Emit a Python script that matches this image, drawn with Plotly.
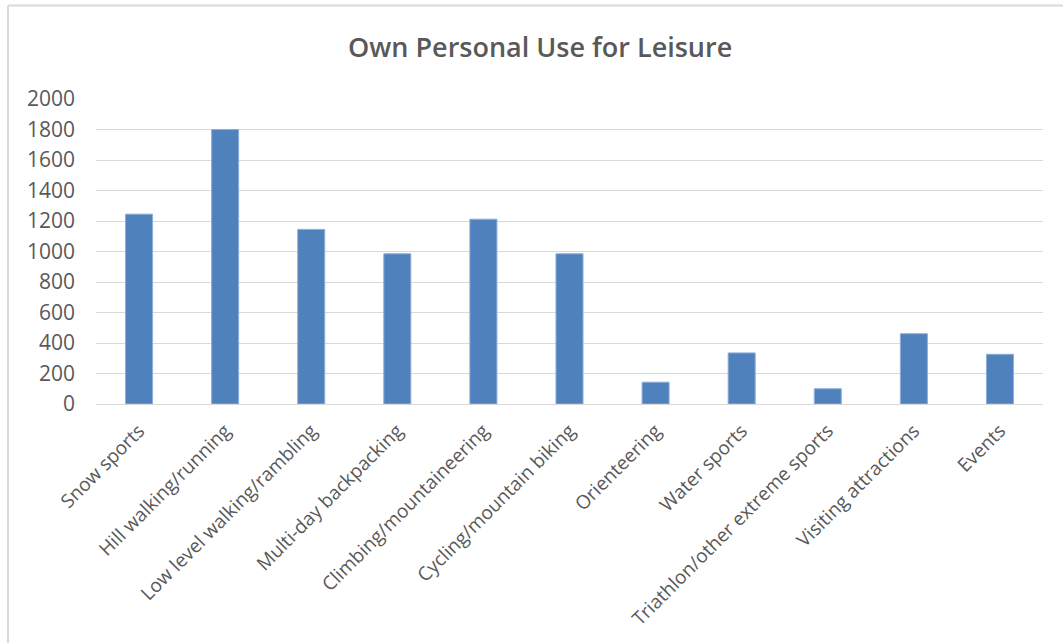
import plotly.graph_objects as go

# Activity categories and counts
categories = [
    "Snow sports",
    "Hill walking/running",
    "Low level walking/rambling",
    "Multi-day backpacking",
    "Climbing/mountaineering",
    "Cycling/mountain biking",
    "Orienteering",
    "Water sports",
    "Triathlon/other extreme sports",
    "Visiting attractions",
    "Events",
]
counts = [1245, 1800, 1145, 985, 1212, 985, 143, 335, 100, 461, 326]

y_ticks = list(range(0, 2001, 200))

TEXT_COLOR = "#595959"
GRID_COLOR = "#d9d9d9"
BAR_COLOR = "#4f81bd"
FONT = "Open Sans"

fig = go.Figure(
    go.Bar(
        x=categories,
        y=counts,
        marker=dict(color=BAR_COLOR, line=dict(color="#8eaedb", width=1)),
        hoverinfo="x+y",
    )
)

fig.update_layout(
    width=1063,
    height=643,
    margin=dict(l=96, r=20, t=99, b=237),
    paper_bgcolor="white",
    plot_bgcolor="white",
    bargap=0.686,
    showlegend=False,
    title=dict(
        text="Own Personal Use for Leisure",
        x=0.469,
        xanchor="center",
        xref="paper",
        y=0.926,
        yanchor="middle",
        font=dict(family=FONT, size=27, color=TEXT_COLOR, weight=600),
    ),
    xaxis=dict(
        tickangle=-45,
        tickfont=dict(family=FONT, size=19, color=TEXT_COLOR),
        showgrid=False,
        showline=False,
        ticks="",
        ticklabelstandoff=11,
    ),
    yaxis=dict(
        range=[0, 2000],
        tickvals=y_ticks,
        tickfont=dict(family=FONT, size=21, color=TEXT_COLOR),
        showgrid=True,
        gridcolor=GRID_COLOR,
        gridwidth=1,
        zeroline=True,
        zerolinecolor=GRID_COLOR,
        zerolinewidth=1,
        showline=False,
        ticks="",
        ticklabelstandoff=20,
    ),
    shapes=[
        # chart frame edges (top and left)
        dict(type="line", xref="paper", yref="paper",
             x0=-88 / 947, x1=1.1, y0=1 + 94 / 306.7, y1=1 + 94 / 306.7,
             line=dict(color="#d9d9d9", width=2)),
        dict(type="line", xref="paper", yref="paper",
             x0=-88 / 947, x1=-88 / 947, y0=-1, y1=1 + 94 / 306.7,
             line=dict(color="#d9d9d9", width=2)),
    ],
)

fig.write_html("out.html")
